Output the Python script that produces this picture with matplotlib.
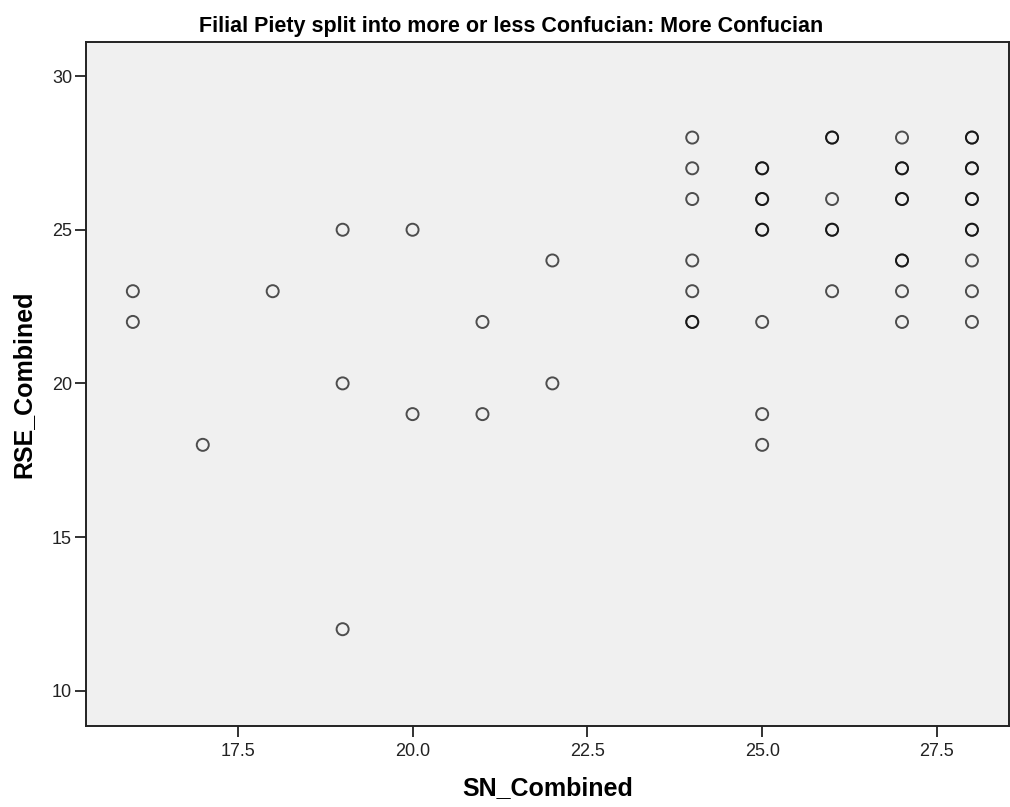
import matplotlib
matplotlib.use("Agg")
import matplotlib.pyplot as plt

# SN_Combined / RSE_Combined, one entry per case (repeats overlap and look darker)
sn = [16, 16, 17, 18, 19, 19, 19, 20, 20, 21, 21, 22, 22,
      24, 24, 24, 24, 24, 24, 24,
      25, 25, 25, 25, 25, 25, 25, 25, 25,
      26, 26, 26, 26, 26, 26,
      27, 27, 27, 27, 27, 27, 27, 27, 27,
      28, 28, 28, 28, 28, 28, 28, 28, 28, 28, 28]
rse = [23, 22, 18, 23, 25, 20, 12, 25, 19, 22, 19, 24, 20,
       28, 27, 26, 24, 23, 22, 22,
       27, 27, 26, 26, 25, 25, 22, 19, 18,
       28, 28, 26, 25, 25, 23,
       28, 27, 27, 26, 26, 24, 24, 23, 22,
       28, 28, 27, 27, 26, 26, 25, 25, 24, 23, 22]

xticks = [17.5, 20.0, 22.5, 25.0, 27.5]
yticks = [10, 15, 20, 25, 30]

plt.rcParams['font.family'] = ['Liberation Sans', 'DejaVu Sans']

fig = plt.figure(figsize=(10.1, 8.07), dpi=100)
ax = fig.add_axes([86/1010, 81/807, 923/1010, 684/807])
ax.set_facecolor('#f0f0f0')

ax.scatter(sn, rse, s=75, facecolors='none', edgecolors='black',
           linewidths=1.4, alpha=0.68, zorder=3)

ax.set_xlim(15.33, 28.53)
ax.set_ylim(8.85, 31.11)
ax.set_xticks(xticks)
ax.set_xticklabels([f'{t:.1f}' for t in xticks])
ax.set_yticks(yticks)

ax.tick_params(direction='out', length=8, width=1.3, labelsize=13, colors='#222222', pad=2)
ax.tick_params(axis='x', pad=4)
for sp in ax.spines.values():
    sp.set_linewidth(1.4)
    sp.set_color('#222222')

fig.text(511/1010, 1 - 32/807,
         'Filial Piety split into more or less Confucian: More Confucian',
         fontsize=15.5, fontweight='bold', ha='center', va='baseline')
ax.set_xlabel('SN_Combined', fontsize=18, fontweight='bold', labelpad=12)
ax.set_ylabel('RSE_Combined', fontsize=18, fontweight='bold', labelpad=12)

fig.savefig('out.png', dpi=100)
